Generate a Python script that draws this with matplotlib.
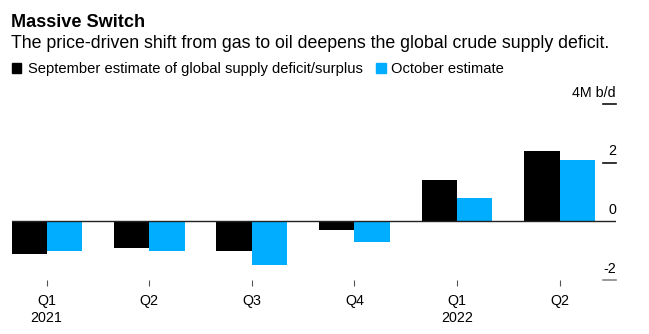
import matplotlib
matplotlib.use("Agg")
import matplotlib.pyplot as plt
from matplotlib.patches import Rectangle

quarters = ["Q1", "Q2", "Q3", "Q4", "Q1", "Q2"]
years = {0: "2021", 4: "2022"}
september = [-1.10, -0.91, -1.01, -0.30, 1.40, 2.39]
october = [-1.01, -1.01, -1.49, -0.70, 0.78, 2.08]
y_ticks = [4, 2, 0, -2]
y_labels = ["4M b/d", "2", "0", "-2"]

BLACK, BLUE = "#000000", "#00adfe"
W, H = 649, 334
plt.rcParams["font.family"] = ["Liberation Sans", "DejaVu Sans"]

fig = plt.figure(figsize=(W / 100, H / 100), dpi=100)
fig.patch.set_facecolor("white")

def fx(px): return px / W
def fy(py): return 1 - py / H

# titles
fig.text(fx(11), fy(26.7), "Massive Switch", fontsize=13.1, fontweight="bold", va="baseline")
fig.text(fx(11), fy(47.7), "The price-driven shift from gas to oil deepens the global crude supply deficit.",
         fontsize=12.8, va="baseline")

# legend
fig.patches.append(Rectangle((fx(11.6), fy(72.5)), 9.5 / W, 9.5 / H, color=BLACK, transform=fig.transFigure))
fig.text(fx(27.5), fy(72.7), "September estimate of global supply deficit/surplus", fontsize=10.65, va="baseline")
fig.patches.append(Rectangle((fx(376), fy(72.5)), 9.5 / W, 9.5 / H, color=BLUE, transform=fig.transFigure))
fig.text(fx(391), fy(72.7), "October estimate", fontsize=10.65, va="baseline")

ax = fig.add_axes([fx(11.6), fy(280), (616 - 11.6) / W, (280 - 104) / H])
x = list(range(len(quarters)))
bw = 0.345
ax.bar([i - bw / 2 for i in x], september, width=bw, color=BLACK, linewidth=0)
ax.bar([i + bw / 2 for i in x], october, width=bw, color=BLUE, linewidth=0)
ax.set_xlim(-0.341, 5.55)
ax.set_ylim(-2, 4)

ax.axhline(0, color="#222222", lw=1.0, zorder=3)
tr = ax.get_yaxis_transform()
for v, lab in zip(y_ticks, y_labels):
    if v != 0:
        ax.plot([0.978, 1.0], [v, v], transform=tr, color="#888888" if v < 0 else "#111111",
                lw=1.2, clip_on=False)
    ax.text(1.0, v + 0.15, lab, transform=tr, ha="right", va="bottom", fontsize=10.3)

for s in ax.spines.values():
    s.set_visible(False)
ax.set_yticks([])
ax.set_xticks(x)
ax.set_xticklabels([q + ("\n" + years[i] if i in years else "") for i, q in enumerate(quarters)],
                   fontsize=10.3, linespacing=1.3, va="top")
ax.tick_params(axis="x", length=4, width=0.8, color="#555555", pad=6)

fig.savefig("out.png", dpi=100)
